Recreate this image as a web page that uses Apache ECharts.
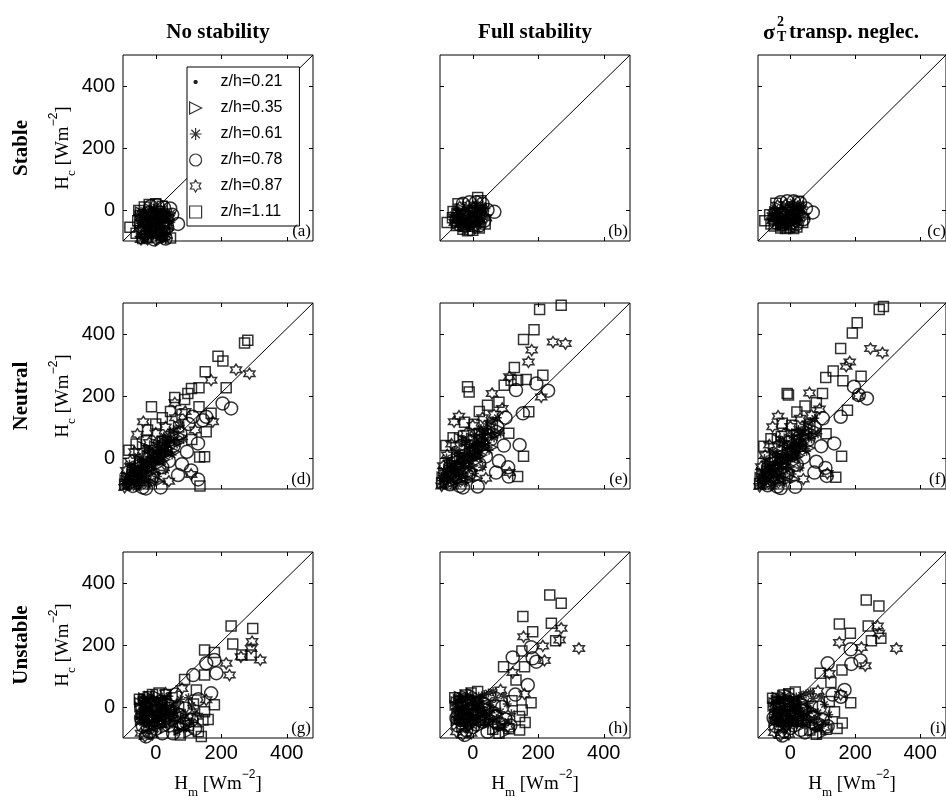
<!DOCTYPE html>
<html><head><meta charset="utf-8">
<script src="https://cdn.jsdelivr.net/npm/echarts@6/dist/echarts.min.js"></script>
<style>html,body{margin:0;padding:0;background:#fff}#c{width:946px;height:803px}</style>
</head><body><div id="c"></div>
<script>
// ---------------- data ----------------
const levels = ['z/h=0.21','z/h=0.35','z/h=0.61','z/h=0.78','z/h=0.87','z/h=1.11'];
const colTitles = ['No stability','Full stability','transp. neglec.'];
const rowTitles = ['Stable','Neutral','Unstable'];
const panelLetters = ['(a)','(b)','(c)','(d)','(e)','(f)','(g)','(h)','(i)'];
const xTicks = [0,200,400];
const yTicks = [0,200,400];
const xLimits = [-100,480];
const yLimits = [-100,500];

// Stable, No stability (a)
const a_dot = [[-40,-15],[-25,-35],[-12,-5],[0,-45],[12,-20],[25,-60],[-30,-70],[5,-85],[18,0],[-5,-25],[35,-35],[-18,-55],[8,-65],[28,-85],[-45,-45],[-35,5],[40,-10],[-20,-85],[15,-40],[30,-70]];
const a_tri = [[-48,-5],[-35,-30],[-20,5],[-8,-40],[5,-10],[20,-40],[32,-15],[-28,-90],[-10,-75],[15,-95],[40,-65],[0,-55],[-40,-60],[-30,-15],[-15,-30],[0,-20],[15,-55],[30,-45],[-45,-75],[-20,-65],[5,-80],[25,-25],[-5,-60],[35,-90],[-50,-45],[-12,-50],[10,-70],[28,-60],[-25,-20],[42,-40]];
const a_ast = [[-42,-25],[-22,-20],[-2,-12],[14,-32],[28,-5],[-35,-55],[-15,-85],[3,-30],[22,-75],[42,-50],[-5,5],[10,-50],[-25,-45],[-50,-35],[-30,-85],[-10,-45],[5,-5],[20,-65],[35,-80],[45,-30],[-20,0],[10,-90],[-45,-5],[-25,-70],[0,-80],[20,-10],[38,-15],[-8,-30],[12,-35],[-30,-30],[-55,-15],[-40,-40],[-18,-40],[-3,-50],[18,-50],[32,-30],[48,-10],[-35,-95],[-10,-65],[12,-80],[30,-95],[-48,-85],[0,10],[25,5]];
const a_circ = [[-15,12],[5,15],[25,8],[44,5],[50,-15],[68,-45],[35,-55],[-25,-10],[15,-75],[-5,-95],[30,-92],[-40,-30],[-10,-40],[20,-20]];
const a_hex = [[-38,-80],[-25,-95],[-12,-60],[0,-97],[18,-88],[30,-70],[-50,-60],[8,-25],[40,-25],[-30,-45],[-45,-95],[-15,-15],[25,-50]];
const a_sq = [[-52,-2],[-48,-18],[-79,-56],[-35,10],[-20,18],[0,20],[20,12],[-55,-35],[25,-50],[45,-90],[-40,-92],[10,-5],[-60,-75],[-35,-40],[0,-70]];
// Stable, Full stability (b)
const b_dot = [[-45,-30],[-30,-15],[-15,-40],[0,-20],[15,-5],[-20,0],[5,-45],[25,-25],[-38,-48],[-5,10],[30,5],[-55,-20],[-10,-25],[10,-10]];
const b_tri = [[-50,-10],[-35,5],[-20,-25],[-5,-50],[10,-30],[20,10],[-40,-40],[0,0],[35,-15],[-25,-55],[15,-55],[-30,-30],[-10,-10],[5,-20],[25,-5],[-45,-25],[-55,-30],[-10,-40],[5,5],[20,-40],[-30,-50]];
const b_ast = [[-42,-22],[-28,-35],[-12,-10],[3,-35],[18,-15],[30,15],[-10,-55],[-48,0],[8,20],[25,-40],[-35,-10],[-20,-45],[12,5],[-5,-25],[-50,-35],[-25,-5],[0,-10],[15,-30],[30,-5],[-15,-55],[-60,-15],[-45,-50],[-35,-25],[-20,10],[-5,-45],[5,-5],[20,0],[35,-25],[-25,-60],[10,-45],[40,5]];
const b_circ = [[-30,20],[-10,25],[10,25],[30,20],[45,0],[66,-6],[35,-35],[-45,-45],[-20,-50],[20,-50],[-30,-20],[0,-35]];
const b_hex = [[-55,-40],[-40,10],[-25,-60],[-5,-30],[15,-45],[40,-25],[-15,15],[5,-60],[-35,-45],[25,0]];
const b_sq = [[-78,-40],[-60,-5],[-62,-25],[15,40],[-16,-67],[0,-65],[-45,20],[20,-58],[38,-45],[25,30],[-30,-62],[-50,-50]];
// Stable, sigma_T^2 transport neglected (c)
const c_dot = [[-45,-25],[-30,-10],[-15,-35],[0,-15],[15,0],[-20,5],[5,-40],[25,-20],[-38,-45],[-5,15],[35,10],[-55,-15],[-10,-20],[10,-5]];
const c_tri = [[-50,-5],[-35,10],[-20,-20],[-5,-45],[10,-25],[20,15],[-40,-35],[0,5],[35,-10],[-25,-50],[15,-50],[-30,-25],[-10,-5],[5,-15],[25,0],[-45,-20],[-55,-25],[-10,-35],[5,10],[20,-35],[-30,-45]];
const c_ast = [[-42,-18],[-28,-30],[-12,-5],[3,-30],[18,-10],[30,20],[-10,-50],[-48,5],[8,25],[25,-35],[-35,-5],[-20,-40],[12,10],[-5,-20],[-50,-30],[-25,0],[0,-5],[15,-25],[30,0],[-15,-50],[-60,-10],[-45,-45],[-35,-20],[-20,15],[-5,-40],[5,0],[20,5],[35,-20],[-25,-55],[10,-40],[40,10]];
const c_circ = [[-30,25],[-10,28],[10,28],[30,22],[48,5],[69,-8],[40,-30],[-45,-40],[-20,-45],[20,-45],[-30,-15],[0,-30]];
const c_hex = [[-55,-35],[-40,15],[-25,-55],[-5,-25],[15,-40],[42,-20],[-15,18],[5,-55],[-35,-40],[25,5]];
const c_sq = [[-79,-35],[-64,-15],[-60,-45],[-2,-56],[-45,22],[20,-55],[38,-40],[25,28],[-30,-58],[10,-60],[-50,-52],[-15,-60]];

// Neutral, No stability (d)
const d_dot = [[-90,-80],[-80,-60],[-70,-75],[-60,-40],[-55,-65],[-45,-30],[-40,-55],[-30,-10],[-25,-45],[-15,5],[-10,-30],[0,20],[5,-15],[15,35],[20,0],[30,50],[35,15],[45,65],[-85,-95],[-50,-85],[-20,-70],[10,-50],[25,-20],[-65,-15],[-35,15],[-75,-40],[-5,-5],[40,40]];
const d_tri = [[-95,-70],[-75,-50],[-62,-85],[-50,-20],[-38,-70],[-28,10],[-18,-50],[-5,40],[8,-25],[18,55],[28,-5],[40,30],[55,80],[-42,40],[-8,-80],[12,-75],[60,20],[70,50],[-85,-85],[-70,-60],[-55,-45],[-45,-60],[-35,-25],[-25,-5],[-15,-20],[-5,10],[5,25],[15,-5],[25,40],[35,55],[45,45],[-80,-75],[-60,-70],[-30,-60],[0,-40],[20,-10],[-50,-5],[-20,30],[50,60],[80,70],[-90,-60],[-65,-30],[-40,-40],[-20,-35],[0,-15],[20,10],[40,15],[60,70],[-10,20],[-30,-20]];
const d_ast = [[-88,-55],[-72,-30],[-58,-55],[-45,-5],[-32,-35],[-20,25],[-8,-10],[5,50],[15,10],[25,70],[38,40],[50,10],[62,95],[-60,-95],[-25,-88],[75,105],[85,60],[30,-40],[-92,-90],[-78,-68],[-65,-50],[-52,-35],[-40,-15],[-28,-40],[-15,-5],[-2,15],[10,35],[22,20],[32,60],[45,85],[-68,-80],[-40,-75],[-10,-45],[12,-10],[-55,5],[-30,30],[65,45],[-80,-20],[-95,-75],[-85,-70],[-75,-85],[-62,-65],[-50,-55],[-38,-30],[-25,-15],[-12,-25],[0,0],[8,20],[18,25],[28,35],[38,20],[55,55],[-70,-45],[-45,-90],[-15,-75],[5,-60]];
const d_circ = [[-70,-90],[-40,-95],[-10,-60],[20,-30],[40,-10],[55,40],[75,80],[95,20],[68,-55],[108,-40],[129,-69],[129,47],[144,122],[113,133],[154,133],[204,176],[230,160],[100,110],[80,-20],[-30,-98],[15,-95],[-60,-60],[-20,-20],[10,10],[-45,-45],[30,25]];
const d_hex = [[-90,-40],[-78,-10],[-56,77],[-38,117],[-65,20],[-48,-80],[-20,50],[0,80],[30,100],[60,130],[58,178],[90,150],[108,-53],[174,117],[169,251],[245,285],[286,272],[-95,-95],[40,-75],[120,90],[-35,-50],[0,0],[25,60]];
const d_sq = [[-82,25],[-60,45],[-28,56],[-13,165],[0,110],[20,130],[45,150],[58,195],[88,189],[98,208],[109,224],[132,227],[151,278],[190,328],[205,313],[215,227],[271,371],[281,380],[169,144],[132,165],[154,85],[149,4],[134,3],[70,100],[110,60],[-50,-45],[80,140],[-95,-85],[135,-90],[-70,-40],[-40,-20],[-10,0],[20,40],[-25,90]];
// Neutral, Full stability (e)
const e_dot = [[-90,-75],[-80,-50],[-70,-65],[-60,-25],[-55,-55],[-45,-10],[-40,-40],[-30,15],[-25,-30],[-15,30],[-10,-15],[0,45],[5,0],[15,60],[20,20],[30,75],[35,35],[45,90],[-85,-90],[-50,-80],[-20,-60],[10,-40],[25,-10],[-65,0],[-35,40],[-75,-30],[-5,10],[40,60]];
const e_tri = [[-95,-60],[-75,-35],[-62,-80],[-50,0],[-38,-60],[-28,35],[-18,-40],[-5,65],[8,-15],[18,80],[28,10],[40,50],[55,105],[-42,65],[-8,-70],[12,-65],[60,35],[70,75],[-85,-80],[-70,-50],[-55,-30],[-45,-50],[-35,-10],[-25,15],[-15,-5],[-5,30],[5,45],[15,10],[25,60],[35,80],[45,70],[-80,-65],[-60,-60],[-30,-50],[0,-25],[20,5],[-50,15],[-20,55],[50,85],[80,95],[-90,-45],[-65,-15],[-40,-25],[-20,-20],[0,0],[20,30],[40,35],[60,90],[-10,40],[-30,-5]];
const e_ast = [[-88,-40],[-72,-15],[-58,-45],[-45,15],[-32,-20],[-20,50],[-8,5],[5,75],[15,25],[25,95],[38,60],[50,25],[62,120],[-60,-90],[-25,-80],[75,130],[85,80],[30,-30],[-92,-85],[-78,-60],[-65,-35],[-52,-20],[-40,5],[-28,-25],[-15,15],[-2,35],[10,55],[22,40],[32,85],[45,110],[-68,-70],[-40,-65],[-10,-35],[12,5],[-55,25],[-30,60],[65,65],[-80,0],[-95,-65],[-85,-55],[-75,-75],[-62,-50],[-50,-40],[-38,-15],[-25,0],[-12,-10],[0,15],[8,40],[18,45],[28,55],[38,40],[55,75],[-70,-30],[-45,-85],[-15,-65],[5,-50]];
const e_circ = [[-70,-85],[-40,-90],[-10,-50],[20,-20],[40,5],[55,60],[75,100],[95,40],[71,-47],[108,-30],[143,42],[153,144],[132,219],[194,240],[230,217],[100,130],[80,-10],[-30,-95],[15,-92],[110,-60],[-60,-55],[-20,-10],[10,25],[-45,-35],[30,45]];
const e_hex = [[-90,-25],[-78,10],[-57,117],[-42,135],[-65,45],[-48,-70],[-20,80],[0,105],[30,130],[59,208],[112,262],[170,310],[180,348],[209,197],[245,374],[283,369],[112,-47],[-95,-90],[40,-65],[90,160],[65,140],[-35,-40],[0,20],[25,85]];
const e_sq = [[-82,40],[-60,65],[-28,71],[4,109],[-16,230],[-11,213],[20,150],[45,170],[96,235],[117,251],[127,292],[137,251],[163,253],[155,382],[187,414],[204,479],[270,493],[214,267],[171,149],[155,6],[137,-60],[60,110],[110,80],[-50,-35],[80,180],[-95,-80],[-70,-25],[-40,0],[-10,20],[20,60],[-25,115]];
// Neutral, sigma_T^2 transport neglected (f)
const f_dot = [[-90,-78],[-80,-55],[-70,-62],[-60,-28],[-55,-58],[-45,-12],[-40,-42],[-30,12],[-25,-32],[-15,28],[-10,-18],[0,42],[5,-2],[15,58],[20,18],[30,72],[35,32],[45,88],[-85,-92],[-50,-82],[-20,-62],[10,-42],[25,-12],[-65,-2],[-35,38],[-75,-32],[-5,8],[40,58]];
const f_tri = [[-95,-62],[-75,-38],[-62,-82],[-50,-2],[-38,-62],[-28,32],[-18,-42],[-5,62],[8,-18],[18,78],[28,8],[40,48],[55,102],[-42,62],[-8,-72],[12,-68],[60,32],[70,72],[-85,-82],[-70,-52],[-55,-32],[-45,-52],[-35,-12],[-25,12],[-15,-8],[-5,28],[5,42],[15,8],[25,58],[35,78],[45,68],[-80,-68],[-60,-62],[-30,-52],[0,-28],[20,2],[-50,12],[-20,52],[50,82],[80,92],[-90,-47],[-65,-17],[-40,-27],[-20,-22],[0,-2],[20,28],[40,32],[60,88],[-10,38],[-30,-7]];
const f_ast = [[-88,-42],[-72,-18],[-58,-48],[-45,12],[-32,-22],[-20,48],[-8,2],[5,72],[15,22],[25,92],[38,58],[50,22],[62,118],[-60,-92],[-25,-82],[75,128],[85,78],[30,-32],[-92,-88],[-78,-62],[-65,-38],[-52,-22],[-40,2],[-28,-28],[-15,12],[-2,32],[10,52],[22,38],[32,82],[45,108],[-68,-72],[-40,-68],[-10,-38],[12,2],[-55,22],[-30,58],[65,62],[-80,-2],[-95,-67],[-85,-57],[-75,-77],[-62,-52],[-50,-42],[-38,-17],[-25,-2],[-12,-12],[0,12],[8,38],[18,42],[28,52],[38,38],[55,72],[-70,-32],[-45,-87],[-15,-67],[5,-52]];
const f_circ = [[-70,-88],[-40,-92],[-10,-52],[20,-22],[40,2],[55,58],[75,98],[95,38],[74,-47],[108,-32],[135,47],[155,133],[196,230],[211,203],[236,192],[100,128],[80,-12],[-30,-97],[15,-93],[112,-58],[-60,-58],[-20,-12],[10,22],[-45,-38],[30,42]];
const f_hex = [[-90,-28],[-78,8],[-55,101],[-38,135],[-65,42],[-48,-72],[-20,78],[0,102],[30,128],[59,210],[172,296],[183,310],[247,353],[284,339],[114,-50],[-95,-92],[40,-68],[90,158],[65,138],[210,200],[-35,-42],[0,18],[25,82]];
const f_sq = [[-82,38],[-60,62],[-28,69],[4,106],[-10,208],[-6,203],[20,148],[45,168],[99,208],[109,260],[132,281],[162,249],[155,353],[191,403],[206,436],[274,479],[287,489],[218,264],[176,154],[158,6],[140,-62],[60,108],[110,78],[-50,-38],[80,178],[-95,-82],[-70,-28],[-40,-2],[-10,18],[20,58],[-25,112]];

// Unstable, No stability (g)
const g_dot = [[-40,-10],[-30,10],[-20,-25],[-10,5],[0,-15],[10,20],[20,-5],[-35,-40],[-5,-45],[15,-35],[30,10],[-25,25],[40,-20],[-45,15],[5,30],[25,-50],[50,5],[60,-30],[-15,-60],[-28,-5],[-8,-20],[12,0],[-38,35]];
const g_tri = [[-45,-25],[-32,0],[-22,-50],[-12,25],[2,-5],[12,-25],[22,15],[35,-40],[-38,30],[45,15],[55,-50],[70,-10],[-8,-30],[28,-70],[80,-60],[-48,-45],[-35,-20],[-25,5],[-15,-40],[-5,15],[5,-25],[15,5],[25,-15],[35,20],[-40,20],[-20,35],[0,40],[10,-50],[30,-30],[45,-5],[-30,-70],[-50,0],[-50,15],[-28,-25],[-18,5],[8,-35],[18,-25],[40,-45],[55,-30],[70,-75],[90,-40],[100,-85]];
const g_ast = [[-42,5],[-28,-15],[-15,15],[-2,-30],[8,0],[18,-15],[32,-5],[48,-35],[62,10],[75,25],[90,-20],[100,30],[-30,-55],[5,-65],[85,-70],[110,5],[40,35],[65,-80],[-45,-15],[-33,20],[-22,-8],[-12,-50],[0,10],[10,-10],[20,30],[30,-25],[42,0],[55,-20],[-38,-35],[-8,-70],[18,-40],[65,-45],[-50,-30],[-40,-50],[-25,-35],[-15,-5],[-5,25],[5,-45],[15,15],[25,0],[38,-15],[50,-55],[60,-10],[75,-35],[95,-65],[-20,-75],[110,-50],[120,-20],[-48,-40],[-35,-5],[-20,-50],[-8,-15],[5,20],[18,-5],[28,25],[-42,30],[-15,35],[2,-40],[32,-50],[45,-25]];
const g_circ = [[-40,-60],[-20,-80],[0,-70],[20,-85],[40,-60],[53,-85],[73,-26],[109,-42],[90,-5],[60,40],[169,44],[114,103],[154,141],[179,152],[185,109],[-30,-95],[120,-70],[130,25],[-45,-35],[-10,-40],[25,-45],[85,-55]];
const g_hex = [[-45,-85],[-33,-95],[-10,-88],[15,-55],[50,-15],[95,-45],[125,-30],[154,23],[215,141],[225,103],[260,162],[291,189],[294,211],[319,152],[80,60],[30,45],[-25,-20],[10,-25]];
const g_sq = [[-50,25],[-45,-5],[-23,33],[-10,40],[10,45],[30,40],[50,30],[88,89],[124,55],[149,103],[149,184],[179,176],[179,7],[149,-15],[144,-42],[139,-95],[230,261],[296,253],[235,203],[263,168],[291,168],[100,-60],[75,-90],[130,-80],[160,-40],[115,10],[-35,15],[0,-10],[70,0]];
// Unstable, Full stability (h)
const h_dot = [[-45,-5],[-35,15],[-25,-20],[-15,10],[-5,-10],[5,25],[15,0],[-40,-35],[-10,-40],[10,-30],[25,15],[-30,30],[35,-15],[-50,20],[0,35],[20,-45],[45,10],[55,-25],[-20,-55],[-30,-5],[-10,-22],[10,5],[-40,38]];
const h_tri = [[-50,-20],[-38,5],[-28,-45],[-18,30],[-2,0],[8,-20],[18,20],[30,-35],[-42,35],[40,20],[50,-45],[65,-5],[-12,-25],[25,-65],[75,-55],[-52,-45],[-40,-15],[-30,10],[-20,-35],[-8,20],[2,-30],[12,8],[22,-10],[35,25],[-45,25],[-25,40],[-5,45],[8,-50],[28,-25],[45,0],[-35,-65],[-55,5],[-52,18],[-30,-25],[-20,5],[6,-35],[16,-25],[38,-45],[52,-30],[68,-75],[88,-40],[98,-85]];
const h_ast = [[-48,10],[-32,-10],[-20,20],[-6,-25],[4,5],[14,-10],[28,0],[42,-30],[55,15],[70,30],[85,-15],[95,35],[-35,-50],[0,-60],[80,-65],[105,10],[48,45],[62,50],[35,40],[-48,-12],[-36,25],[-25,-5],[-15,-45],[-2,15],[8,-5],[18,35],[32,-20],[-40,-30],[-10,-65],[16,-35],[60,-40],[-52,-30],[-42,-50],[-28,-35],[-18,-5],[-8,28],[2,-45],[12,18],[22,2],[36,-12],[48,-55],[58,-8],[72,-38],[92,-65],[-22,-72],[108,-48],[118,-22],[-50,-42],[-38,-2],[-22,-52],[-10,-12],[3,22],[16,-2],[26,28],[-44,32],[-17,38],[0,-38],[30,-48],[43,-22]];
const h_circ = [[-37,-42],[-45,-60],[-20,-75],[0,-65],[30,-47],[45,-80],[70,-30],[100,-40],[90,0],[122,160],[178,193],[183,157],[194,146],[168,71],[130,40],[-25,-90],[115,-60],[-50,-35],[-15,-40],[20,-40],[80,-55]];
const h_hex = [[-50,-80],[-30,-90],[-5,-85],[20,-50],[50,-10],[107,-63],[122,111],[158,42],[155,227],[214,197],[219,150],[265,216],[270,254],[324,189],[85,55],[-28,-20],[10,-20]];
const h_sq = [[-55,30],[-45,0],[-21,39],[-5,45],[15,50],[61,-72],[94,130],[132,87],[150,181],[153,292],[158,130],[178,14],[151,-10],[143,-31],[143,-74],[183,243],[235,361],[270,335],[240,270],[253,214],[110,-70],[80,-85],[160,-50],[120,20],[-38,18],[-2,-12],[68,5]];
// Unstable, sigma_T^2 transport neglected (i)
const i_dot = [[-45,-8],[-35,12],[-25,-22],[-15,8],[-5,-12],[5,22],[15,-2],[-40,-38],[-10,-42],[10,-32],[25,12],[-30,28],[35,-18],[-50,18],[0,32],[20,-48],[45,8],[55,-28],[-20,-58],[-30,-8],[-10,-25],[10,2],[-40,35]];
const i_tri = [[-50,-22],[-38,2],[-28,-48],[-18,28],[-2,-2],[8,-22],[18,18],[30,-38],[-42,32],[40,18],[50,-48],[65,-8],[-12,-28],[25,-68],[75,-58],[-52,-48],[-40,-18],[-30,8],[-20,-38],[-8,18],[2,-32],[12,5],[22,-12],[35,22],[-45,22],[-25,38],[-5,42],[8,-52],[28,-28],[45,-2],[-35,-68],[-55,2],[-52,15],[-30,-28],[-20,2],[6,-38],[16,-28],[38,-48],[52,-32],[68,-78],[88,-42],[98,-88]];
const i_ast = [[-48,8],[-32,-12],[-20,18],[-6,-28],[4,2],[14,-12],[28,-2],[42,-32],[55,12],[70,28],[85,-18],[95,32],[-35,-52],[0,-62],[80,-68],[105,8],[48,42],[62,48],[35,38],[-48,-15],[-36,22],[-25,-8],[-15,-48],[-2,12],[8,-8],[18,32],[32,-22],[-40,-32],[-10,-68],[16,-38],[60,-42],[-52,-32],[-42,-52],[-28,-38],[-18,-8],[-8,25],[2,-48],[12,15],[22,0],[36,-15],[48,-58],[58,-10],[72,-40],[92,-68],[-22,-75],[108,-50],[118,-25],[-50,-45],[-38,-5],[-22,-55],[-10,-15],[3,20],[16,-5],[26,25],[-44,30],[-17,35],[0,-40],[30,-50],[43,-25]];
const i_circ = [[-41,-42],[-45,-62],[-20,-78],[0,-68],[32,-74],[45,-82],[70,-32],[100,-42],[90,-2],[115,141],[186,186],[188,139],[216,150],[167,55],[156,33],[130,40],[-25,-92],[115,-62],[-52,-35],[-15,-42],[20,-42],[80,-58]];
const i_hex = [[-50,-82],[-30,-92],[-5,-88],[20,-52],[50,-12],[105,-65],[120,108],[155,40],[151,208],[219,192],[231,133],[269,261],[273,238],[327,189],[85,52],[-28,-22],[10,-22]];
const i_sq = [[-55,28],[-45,-2],[-20,39],[-5,43],[15,48],[60,-74],[92,109],[125,79],[151,268],[185,238],[159,119],[186,14],[136,-15],[144,-69],[234,345],[273,326],[240,261],[250,214],[279,222],[110,-72],[80,-88],[160,-52],[120,18],[-38,15],[-2,-15],[68,2]];

const panels = [
  [a_dot,a_tri,a_ast,a_circ,a_hex,a_sq],
  [b_dot,b_tri,b_ast,b_circ,b_hex,b_sq],
  [c_dot,c_tri,c_ast,c_circ,c_hex,c_sq],
  [d_dot,d_tri,d_ast,d_circ,d_hex,d_sq],
  [e_dot,e_tri,e_ast,e_circ,e_hex,e_sq],
  [f_dot,f_tri,f_ast,f_circ,f_hex,f_sq],
  [g_dot,g_tri,g_ast,g_circ,g_hex,g_sq],
  [h_dot,h_tri,h_ast,h_circ,h_hex,h_sq],
  [i_dot,i_tri,i_ast,i_circ,i_hex,i_sq]
];

// ---------------- layout & style ----------------
const colLeft = [123, 440, 758];
const rowTop = [55, 303, 552];
const W = 190, H = 186;
const HEX = 'path://M5,0L6.44,2.5L9.33,2.5L7.89,5L9.33,7.5L6.44,7.5L5,10L3.56,7.5L0.67,7.5L2.11,5L0.67,2.5L3.56,2.5Z';
const symbols = ['circle','path://M0,0L10,5L0,10Z','path://M5,0L5,10M0,5L10,5M1.46,1.46L8.54,8.54M8.54,1.46L1.46,8.54','circle',HEX,'path://M0,0L10,0L10,10L0,10Z'];
const legendIcons = ['path://M0,0M10,10M4.4,3.8L5.6,3.8L6.2,4.4L6.2,5.6L5.6,6.2L4.4,6.2L3.8,5.6L3.8,4.4Z', symbols[1], symbols[2], 'circle', HEX, symbols[5]];
const sizes = [4, 9, 9, 13, 11, 10];
const fills = ['#000','rgba(0,0,0,0)','rgba(0,0,0,0)','rgba(0,0,0,0)','rgba(0,0,0,0)','rgba(0,0,0,0)'];
const strokeW = [0, 1.5, 1.5, 1.5, 1.5, 1.5];
const SERIF = '"Liberation Serif","DejaVu Serif",serif';
const SANS = '"Liberation Sans",Arial,sans-serif';

const grid = [], xAxis = [], yAxis = [], series = [], graphic = [];
const unitRich = {
  h: {fontFamily: SERIF, fontSize: 19, color:'#000', lineHeight: 30},
  sub: {fontFamily: SERIF, fontSize: 13, color:'#000', verticalAlign:'bottom'},
  sup: {fontFamily: SANS, fontSize: 12, color:'#000', verticalAlign:'top'}
};

for (let r = 0; r < 3; r++) {
  for (let c = 0; c < 3; c++) {
    const g = r * 3 + c;
    grid.push({left: colLeft[c], top: rowTop[r], width: W, height: H, show: true,
      borderColor: '#000', borderWidth: 1, backgroundColor: '#fff', containLabel: false});
    const tick = {show: true, inside: true, length: 4, lineStyle: {color: '#000', width: 1}};
    xAxis.push({gridIndex: g, type: 'value', min: xLimits[0], max: xLimits[1], position: 'bottom',
      axisLine: {show: false, onZero: false}, splitLine: {show: false},
      axisTick: Object.assign({customValues: xTicks}, tick),
      axisLabel: {show: r === 2, customValues: xTicks, margin: 5, color: '#000', fontFamily: SANS, fontSize: 20},
      name: r === 2 ? '{h|H}{sub|m}{h| [Wm}{sup|−2}{h|]}' : '', nameLocation: 'middle', nameGap: 31,
      nameTextStyle: {rich: unitRich}});
    xAxis.push({gridIndex: g, type: 'value', min: xLimits[0], max: xLimits[1], position: 'top',
      axisLine: {show: false, onZero: false}, splitLine: {show: false},
      axisTick: Object.assign({customValues: xTicks}, tick), axisLabel: {show: false}});
    yAxis.push({gridIndex: g, type: 'value', min: yLimits[0], max: yLimits[1], position: 'left',
      axisLine: {show: false, onZero: false}, splitLine: {show: false},
      axisTick: Object.assign({customValues: yTicks}, tick),
      axisLabel: {show: c === 0, customValues: yTicks, margin: 8, color: '#000', fontFamily: SANS, fontSize: 20},
      name: c === 0 ? '{h|H}{sub|c}{h| [Wm}{sup|−2}{h|]}' : '', nameLocation: 'middle', nameGap: 44,
      nameTextStyle: {rich: unitRich}});
    yAxis.push({gridIndex: g, type: 'value', min: yLimits[0], max: yLimits[1], position: 'right',
      axisLine: {show: false, onZero: false}, splitLine: {show: false},
      axisTick: Object.assign({customValues: yTicks}, tick), axisLabel: {show: false}});

    // 1:1 diagonal from axis corner to axis corner
    series.push({type: 'line', xAxisIndex: g * 2, yAxisIndex: g * 2, silent: true, symbol: 'none', z: 1,
      data: [[xLimits[0], yLimits[0]], [xLimits[1], yLimits[1]]],
      lineStyle: {color: '#000', width: 1}, animation: false});

    panels[g].forEach((pts, k) => {
      series.push({type: 'scatter', name: levels[k], xAxisIndex: g * 2, yAxisIndex: g * 2,
        symbol: symbols[k], symbolSize: sizes[k], data: pts, z: 2, clip: false,
        itemStyle: {color: fills[k], borderColor: '#000', borderWidth: strokeW[k]},
        emphasis: {disabled: true}, animation: false});
    });

    graphic.push({type: 'text', x: colLeft[c] + W - 2, y: rowTop[r] + H - 1, z: 20,
      style: {text: panelLetters[g], fontFamily: SERIF, fontSize: 17, fill: '#000', align: 'right', verticalAlign: 'bottom'}});
  }
}

// column titles
graphic.push({type:'text', x: colLeft[0] + W/2, y: 33, style:{text: colTitles[0], font: 'bold 21px ' + SERIF, fill:'#000', align:'center', verticalAlign:'middle'}});
graphic.push({type:'text', x: colLeft[1] + W/2, y: 33, style:{text: colTitles[1], font: 'bold 21px ' + SERIF, fill:'#000', align:'center', verticalAlign:'middle'}});
graphic.push({type:'text', x: colLeft[2] + 5, y: 33, style:{text: 'σ', font: 'bold 22px ' + SERIF, fill:'#000', align:'left', verticalAlign:'middle'}});
graphic.push({type:'text', x: colLeft[2] + 19, y: 22, style:{text: '2', font: 'bold 14px ' + SERIF, fill:'#000', align:'left', verticalAlign:'middle'}});
graphic.push({type:'text', x: colLeft[2] + 19, y: 37, style:{text: 'T', font: 'bold 14px ' + SERIF, fill:'#000', align:'left', verticalAlign:'middle'}});
graphic.push({type:'text', x: colLeft[2] + 31, y: 33, style:{text: colTitles[2], font: 'bold 21px ' + SERIF, fill:'#000', align:'left', verticalAlign:'middle'}});
// row titles
for (let r = 0; r < 3; r++) {
  graphic.push({type:'text', x: 22, y: rowTop[r] + H/2, rotation: Math.PI/2,
    style:{text: rowTitles[r], font: 'bold 21px ' + SERIF, fill:'#000', align:'center', verticalAlign:'middle'}});
}

const option = {
  animation: false,
  backgroundColor: '#fff',
  grid, xAxis, yAxis, series, graphic,
  legend: {
    show: true, selectedMode: false, orient: 'vertical', left: 187, top: 67,
    itemWidth: 40, itemHeight: 12, itemGap: 10, padding: [7, 17, 6, 2],
    backgroundColor: '#fff', borderColor: '#000', borderWidth: 1, borderRadius: 0,
    textStyle: {fontFamily: SANS, fontSize: 16, color: '#000'},
    itemStyle: {borderWidth: 1.2},
    data: levels.map((n, i) => ({name: n, icon: legendIcons[i]})),
    z: 10
  }
};
const chart = echarts.init(document.getElementById('c'), null, {renderer: 'canvas'});
chart.setOption(option);
</script>
</body></html>
